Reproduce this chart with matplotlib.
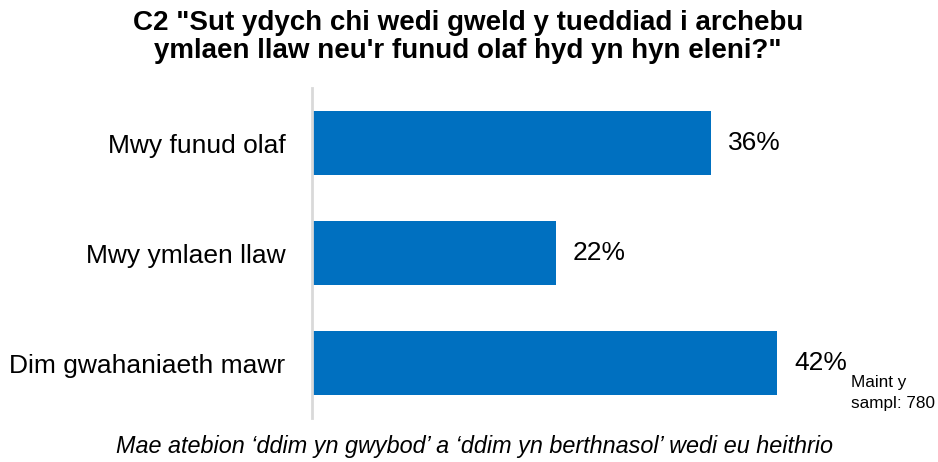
import matplotlib.pyplot as plt

plt.rcParams['font.family'] = ['Liberation Sans', 'DejaVu Sans']

categories = ['Mwy funud olaf', 'Mwy ymlaen llaw', 'Dim gwahaniaeth mawr']
values = [36, 22, 42]
title = 'C2 "Sut ydych chi wedi gweld y tueddiad i archebu\nymlaen llaw neu\'r funud olaf hyd yn hyn eleni?"'
note = "Mae atebion \u2018ddim yn gwybod\u2019 a \u2018ddim yn berthnasol\u2019 wedi eu heithrio"
sample = 'Maint y\nsampl: 780'

W, H = 938, 462
fig = plt.figure(figsize=(W / 100, H / 100), dpi=100)
# axes box in pixels: x 312..912, y 88..418
ax = fig.add_axes([312 / W, 1 - 418 / H, 600 / W, 330 / H])

pos = list(range(len(categories)))
ax.barh(pos, values, height=0.58, color='#0070C0')
ax.set_xlim(0, 600 / 11.08)
ax.set_ylim(2.5, -0.5)

for p, v in zip(pos, values):
    ax.annotate(f'{v}%', (v, p), xytext=(12, 0), textcoords='offset points',
                va='center', ha='left', fontsize=19, color='#000000')

ax.set_yticks(pos)
ax.set_yticklabels(categories, fontsize=19)
ax.tick_params(axis='y', length=0, pad=19)
ax.set_xticks([])
for s in ['top', 'right', 'bottom']:
    ax.spines[s].set_visible(False)
ax.spines['left'].set_color('#d9d9d9')
ax.spines['left'].set_linewidth(2)

fig.text(468 / W, 1 - 37 / H, title, ha='center', va='center', fontsize=20,
         fontweight='bold', linespacing=1.05)
fig.text(474 / W, 1 - 446 / H, note, ha='center', va='center', fontsize=16.8,
         style='italic')
fig.text(851 / W, 1 - 393 / H, sample, ha='left', va='center', fontsize=12.3,
         linespacing=1.45)

fig.savefig('out.png', dpi=100)
